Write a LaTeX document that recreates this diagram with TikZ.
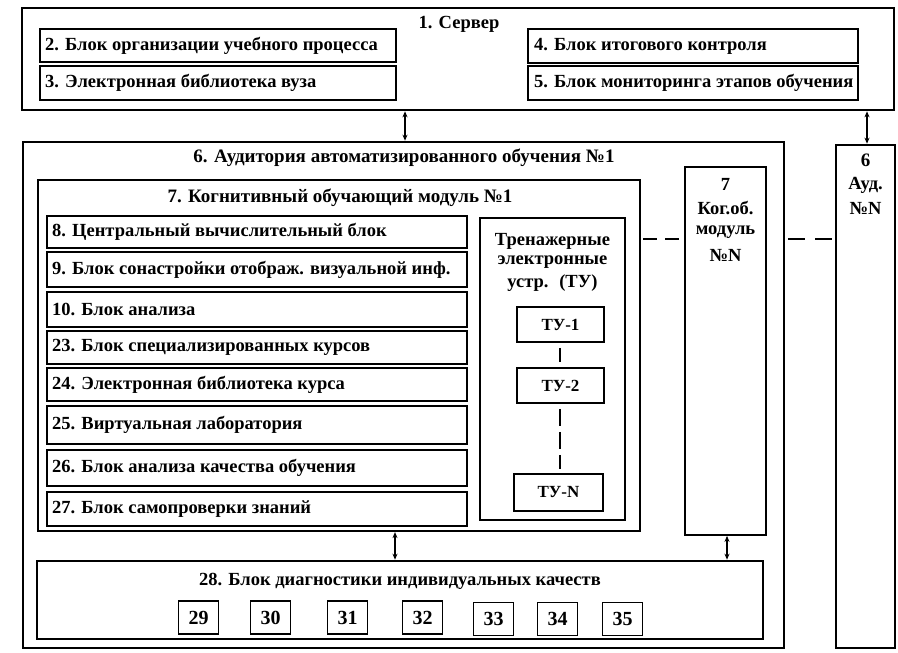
\documentclass[tikz,border=0pt]{standalone}
\usepackage{fontspec}
\setmainfont{Liberation Serif}
\usetikzlibrary{fit,arrows.meta}
\begin{document}
\begin{tikzpicture}[x=1pt,y=-1pt,
  blk/.style={draw, line width=1.8pt, inner sep=0pt, rectangle},
  thk/.style={draw, line width=2.6pt, inner sep=0pt, rectangle},
  lbl/.style={font=\fontsize{18.5}{21}\selectfont\bfseries, inner sep=0pt},
  llbl/.style={lbl, anchor=west},
  tul/.style={lbl, font=\fontsize{17}{19}\selectfont\bfseries},
  sq/.style={draw, line width=1.8pt, minimum width=40pt, minimum height=33pt, inner sep=0pt, font=\fontsize{20}{22}\selectfont\bfseries},
  dbl/.style={{Stealth[length=6pt,width=5pt]}-{Stealth[length=6pt,width=5pt]}, line width=1.2pt},
  dsh/.style={line width=1.8pt, dash pattern=on 14pt off 8pt}
]
\useasboundingbox (0,0) rectangle (898,653);
% Server
\node[thk, fit={(22,8) (894,110)}] (server) {};
\node[lbl] (t1) at (459,24) {1. Сервер};
\node[blk, fit={(40,29) (396,62)}] (b2) {};
\node[llbl] at (45,46) {2. Блок организации учебного процесса};
\node[blk, fit={(40,66) (396,100)}] (b3) {};
\node[llbl] at (45,83) {3. Электронная библиотека вуза};
\node[blk, fit={(528,29) (858,63)}] (b4) {};
\node[llbl] at (534,46) {4. Блок итогового контроля};
\node[blk, fit={(528,66) (858,100)}] (b5) {};
\node[llbl] at (534,83) {5. Блок мониторинга этапов обучения};
% Auditorium
\node[thk, fit={(23,142) (784,648)}] (aud) {};
\node[lbl, font=\fontsize{19}{21}\selectfont\bfseries] at (404,158) {6. Аудитория автоматизированного обучения №1};
\node[blk, line width=2.2pt, fit={(38,180) (640,531)}] (cog) {};
\node[lbl, font=\fontsize{19}{21}\selectfont\bfseries] at (340,198) {7. Когнитивный обучающий модуль №1};
\node[blk, fit={(47,216) (467,248)}] (b8) {};
\node[llbl] at (52,232) {8. Центральный вычислительный блок};
\node[blk, fit={(47,252) (467,287)}] (b9) {};
\node[llbl] at (52,269.5) {9. Блок сонастройки отображ. визуальной инф.};
\node[blk, fit={(47,292) (467,327)}] (b10) {};
\node[llbl] at (52,309.5) {10. Блок анализа};
\node[blk, fit={(47,331) (467,364)}] (b23) {};
\node[llbl] at (52,347.5) {23. Блок специализированных курсов};
\node[blk, fit={(47,368) (467,401)}] (b24) {};
\node[llbl] at (52,384.5) {24. Электронная библиотека курса};
\node[blk, fit={(47,406) (467,444)}] (b25) {};
\node[llbl] at (52,425) {25. Виртуальная лаборатория};
\node[blk, fit={(47,450) (467,486)}] (b26) {};
\node[llbl] at (52,468) {26. Блок анализа качества обучения};
\node[blk, fit={(47,492) (467,526)}] (b27) {};
\node[llbl] at (52,509) {27. Блок самопроверки знаний};
% Trainers
\node[thk, fit={(480,218) (625,520)}] (tu) {};
\node[lbl] at (552.5,241) {Тренажерные};
\node[lbl] at (552.5,262) {электронные};
\node[lbl] at (552.5,283) {устр. \ (ТУ)};
\node[blk, fit={(517,307) (604,342)}] (tu1) {};
\node[tul] at (tu1) {ТУ-1};
\node[blk, fit={(517,368) (604,403)}] (tu2) {};
\node[tul] at (tu2) {ТУ-2};
\node[blk, fit={(514,474) (603,511)}] (tuN) {};
\node[tul] at (tuN) {ТУ-N};
\draw[line width=1.8pt, shorten <=5pt, shorten >=5pt] (tu1.south -| 560,0) -- (tu2.north -| 560,0);
\draw[line width=1.8pt, dash pattern=on 17pt off 6pt, shorten <=5pt, shorten >=4pt] (tu2.south -| 560,0) -- (tuN.north -| 560,0);
% Module N
\node[blk, fit={(685,167) (766,535)}] (cogN) {};
\node[lbl] at (725.5,184) {7};
\node[lbl] at (725.5,208) {Ког.об.};
\node[lbl] at (725.5,232) {модуль};
\node[lbl] at (725.5,255) {№N};
% Auditorium N
\node[thk, fit={(836,145) (895,648)}] (audN) {};
\node[lbl, font=\fontsize{19}{21}\selectfont\bfseries] at (865.5,160) {6};
\node[lbl] at (865.5,185) {Ауд.};
\node[lbl] at (865.5,208) {№N};
% Diagnostics
\node[thk, fit={(37,561) (763,639)}] (diag) {};
\node[lbl] at (400,581) {28. Блок диагностики индивидуальных качеств};
\node[sq] (s29) at (198.5,617.5) {29};
\node[sq] (s30) at (270.5,617.5) {30};
\node[sq] (s31) at (347.5,617.5) {31};
\node[sq] (s32) at (422.5,617.5) {32};
\node[sq] (s33) at (493.5,619) {33};
\node[sq] (s34) at (557.5,619) {34};
\node[sq] (s35) at (622.5,619) {35};
% Connectors
\draw[dbl] (server.south -| 405,0) -- (aud.north -| 405,0);
\draw[dbl] (server.south -| 867,0) -- (audN.north -| 867,0);
\draw[dbl] (cog.south -| 395,0) -- (diag.north -| 395,0);
\draw[dbl] (cogN.south -| 727,0) -- (diag.north -| 727,0);
\draw[dsh, dash phase=-2pt] (cog.east |- 0,239) -- (cogN.west |- 0,239);
\draw[dsh, dash pattern=on 17pt off 10pt, dash phase=-3pt] (aud.east |- 0,239) -- (audN.west |- 0,239);
\end{tikzpicture}
\end{document}
